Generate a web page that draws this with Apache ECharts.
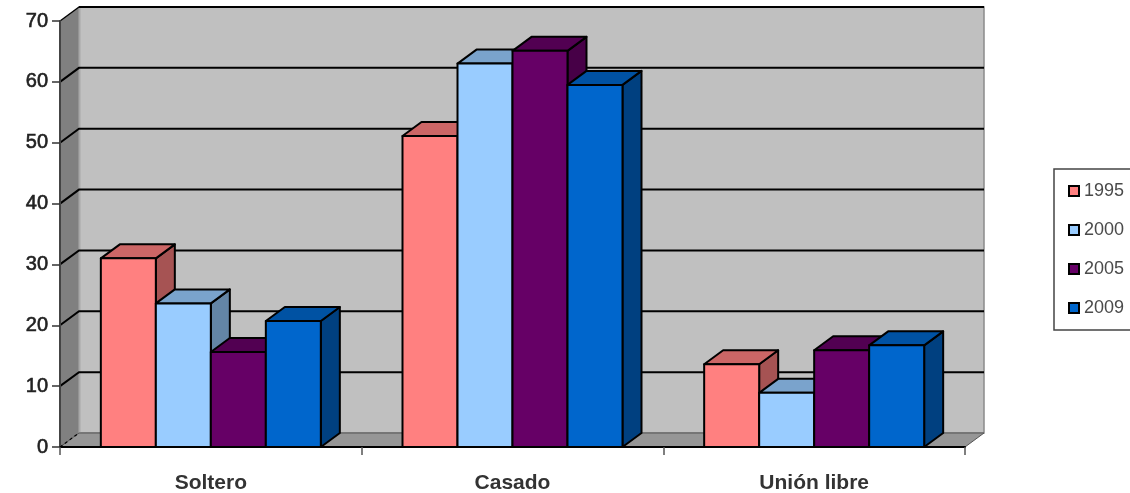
<!DOCTYPE html>
<html>
<head>
<meta charset="utf-8">
<script src="https://cdn.jsdelivr.net/npm/echarts@6/dist/echarts.min.js"></script>
<style>
html,body{margin:0;padding:0;background:#fff;overflow:hidden}
#c{width:1130px;height:493px;filter:blur(0.7px)}
</style>
</head>
<body>
<div id="c"></div>
<script>
const categories = ['Soltero', 'Casado', 'Unión libre'];
const yTicks = [0, 10, 20, 30, 40, 50, 60, 70];
const v1995 = [31, 51.1, 13.6];
const v2000 = [23.6, 63, 8.9];
const v2005 = [15.6, 65.1, 15.9];
const v2009 = [20.7, 59.5, 16.7];

const DX = 19, DY = -14;
const BAR_FRACTION = 55 / 301.67;
const EDGE = { stroke: '#000', lineWidth: 2, lineJoin: 'round' };

function poly(points, fill, extra) {
  return { type: 'polygon', shape: { points }, style: Object.assign({}, EDGE, { fill }, extra || {}) };
}
function barSeries(name, values, k, front, top, side) {
  return {
    name, type: 'custom', z: 3, silent: true,
    coordinateSystem: 'cartesian2d',
    itemStyle: { color: front },
    encode: { x: 0, y: 1 },
    data: values.map((v, i) => [i, v]),
    renderItem(params, api) {
      const p = api.coord([api.value(0), api.value(1)]);
      const base = api.coord([api.value(0), 0]);
      const w = api.size([1, 0])[0] * BAR_FRACTION;
      const x0 = p[0] + (k - 2) * w, x1 = x0 + w;
      const yT = p[1], yB = base[1];
      return { type: 'group', children: [
        poly([[x1, yT], [x1 + DX, yT + DY], [x1 + DX, yB + DY], [x1, yB]], side),
        poly([[x0, yT], [x0 + DX, yT + DY], [x1 + DX, yT + DY], [x1, yT]], top),
        poly([[x0, yT], [x1, yT], [x1, yB], [x0, yB]], front)
      ] };
    }
  };
}

const wallSeries = {
  name: 'wall', type: 'custom', z: 1, silent: true,
  coordinateSystem: 'cartesian2d',
  encode: { x: 0, y: 1 },
  data: yTicks.map(t => [0, t]),
  renderItem(params, api) {
    const cs = params.coordSys;
    const L = cs.x, R = cs.x + cs.width, T = cs.y, B = cs.y + cs.height;
    const kids = [];
    if (params.dataIndex === 0) {
      kids.push({ type: 'rect', shape: { x: L + DX, y: T + DY, width: cs.width, height: cs.height },
        style: { fill: '#c0c0c0', stroke: '#8a8a8a', lineWidth: 1.5 } });
      kids.push({ type: 'polygon', shape: { points: [[L, T], [L + DX, T + DY], [L + DX, B + DY], [L, B]] },
        style: { fill: '#808080' } });
      kids.push({ type: 'line', shape: { x1: L + DX + 0.5, y1: T + DY, x2: L + DX + 0.5, y2: B + DY },
        style: { stroke: '#a8a8a8', lineWidth: 2 } });
      kids.push({ type: 'polygon', shape: { points: [[L, B], [L + DX, B + DY], [R + DX, B + DY], [R, B]] },
        style: { fill: '#969696', stroke: '#555', lineWidth: 1 } });
      kids.push({ type: 'line', shape: { x1: L + DX, y1: T + DY, x2: R + DX, y2: T + DY },
        style: { stroke: '#000', lineWidth: 2 } });
    }
    const v = api.value(1);
    const y = api.coord([0, v])[1];
    if (v > 0) {
      if (v < 70) {
        kids.push({ type: 'polyline', shape: { points: [[L, y], [L + DX, y + DY], [R + DX, y + DY]] },
          style: { stroke: '#000', lineWidth: 2, fill: 'none' } });
      } else {
        kids.push({ type: 'line', shape: { x1: L, y1: y, x2: L + DX, y2: y + DY },
          style: { stroke: '#000', lineWidth: 1.4 } });
      }
    } else {
      kids.push({ type: 'line', shape: { x1: L, y1: y, x2: L + DX, y2: y + DY },
        style: { stroke: '#000', lineWidth: 1.2, lineDash: [3, 3] } });
    }
    return { type: 'group', children: kids };
  }
};

const chart = echarts.init(document.getElementById('c'), null, { renderer: 'canvas' });
chart.setOption({
  animation: false,
  backgroundColor: '#fff',
  textStyle: { fontFamily: 'Liberation Sans' },
  grid: { left: 60, right: 165, top: 21, bottom: 46, outerBoundsMode: 'none' },
  legend: {
    orient: 'vertical', left: 1054, top: 169,
    data: ['1995', '2000', '2005', '2009'],
    icon: 'rect', itemWidth: 10, itemHeight: 10, itemGap: 21,
    padding: [13, 30, 13, 14],
    borderColor: '#444', borderWidth: 1.5, backgroundColor: '#fff',
    selectedMode: false,
    itemStyle: { borderColor: '#000', borderWidth: 2 },
    textStyle: { fontSize: 18, color: '#4a4a4a', fontFamily: 'Liberation Sans' }
  },
  xAxis: {
    type: 'category', data: categories, z: 5,
    axisLine: { lineStyle: { color: '#000', width: 2 } },
    axisTick: { show: true, length: 8, lineStyle: { color: '#555', width: 1.5 } },
    axisLabel: { fontSize: 21, fontWeight: 'bold', color: '#333', margin: 26, fontFamily: 'Liberation Sans' }
  },
  yAxis: {
    type: 'value', min: 0, max: 70, interval: 10, z: 5,
    axisLine: { show: true, lineStyle: { color: '#444', width: 2 } },
    axisTick: { show: true, length: 8, lineStyle: { color: '#333', width: 1.5 } },
    axisLabel: { fontSize: 20, color: '#222', margin: 12, fontFamily: 'Liberation Sans', textBorderColor: '#222', textBorderWidth: 0.6 },
    splitLine: { show: false }
  },
  series: [
    wallSeries,
    barSeries('1995', v1995, 0, '#ff8080', '#cc6666', '#a65353'),
    barSeries('2000', v2000, 1, '#99ccff', '#7aa3cc', '#6385a6'),
    barSeries('2005', v2005, 2, '#660066', '#520052', '#470047'),
    barSeries('2009', v2009, 3, '#0066cc', '#0052a3', '#004080')
  ]
});
</script>
</body>
</html>
